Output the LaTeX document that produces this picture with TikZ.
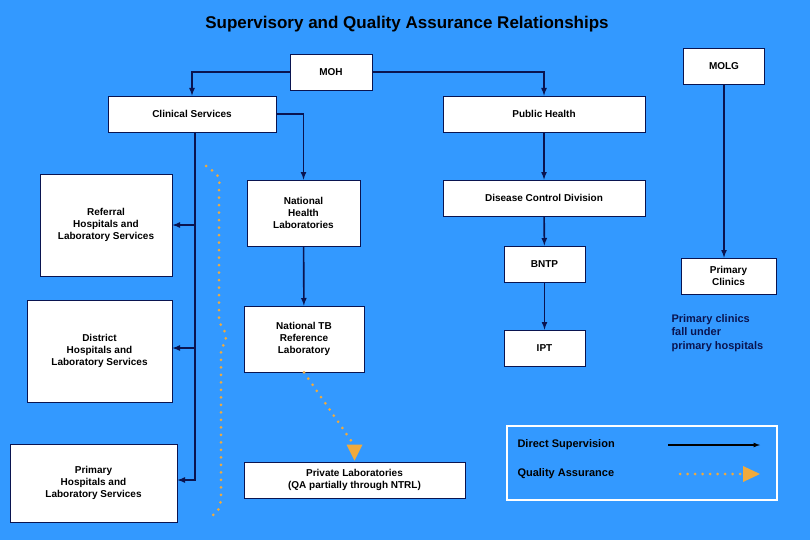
\documentclass[tikz,border=0pt]{standalone}
\usepackage{fontspec}
\setmainfont{Liberation Sans}
\usepackage{tikz}
\usetikzlibrary{arrows,shapes,positioning,calc}
\definecolor{bgblue}{RGB}{51,153,255}
\definecolor{qaorange}{RGB}{240,170,60}
\definecolor{navy}{RGB}{10,20,80}
\begin{document}
\begin{tikzpicture}[x=1pt,y=-1pt]
    \tikzstyle{box}=[draw=navy,fill=white,thick,inner sep=1pt,align=center,font=\bfseries\fontsize{10}{12}\selectfont]
    \tikzstyle{sup}=[draw=navy,line width=1.6pt,-latex]
    \tikzstyle{qa}=[draw=qaorange,line width=3pt,line cap=round,dash pattern=on 0pt off 7.5pt]

\fill[bgblue] (0,0) rectangle (810,540);
\path[use as bounding box] (0,0) rectangle (810,540);

\node[font=\bfseries\fontsize{17}{20}\selectfont] (title) at (407,24) {Supervisory and Quality Assurance Relationships};

% Ministries
\node[box, minimum width=82pt, minimum height=36pt] (moh) at (331,72) {MOH};
\node[box, minimum width=81pt, minimum height=36pt] (molg) at (724,66) {MOLG};

\node[box, minimum width=168pt, minimum height=36pt] (clin) at (192,114) {Clinical Services};
\node[box, minimum width=202pt, minimum height=36pt] (ph) at (544,114) {Public Health};

% hospitals
\node[box, minimum width=132pt, minimum height=102pt] (ref) at (106,225) {Referral\\Hospitals and\\Laboratory Services};
\node[box, minimum width=145pt, minimum height=102pt] (dist) at (99.5,351) {District\\Hospitals and\\Laboratory Services};
\node[box, minimum width=167pt, minimum height=78pt] (prim) at (93.5,483) {Primary\\Hospitals and\\Laboratory Services};

% laboratories
\node[box, minimum width=113pt, minimum height=66pt] (nhl) at (303.5,213) {National\\Health\\Laboratories};
\node[box, minimum width=120pt, minimum height=66pt] (ntrl) at (304,339) {National TB\\Reference\\Laboratory};
\node[box, minimum width=221pt, minimum height=36pt] (priv) at (354.5,480) {Private Laboratories\\(QA partially through NTRL)};

% public health line
\node[box, minimum width=202pt, minimum height=36pt] (dcd) at (544,198) {Disease Control Division};
\node[box, minimum width=81pt, minimum height=36pt] (bntp) at (544.5,264) {BNTP};
\node[box, minimum width=81pt, minimum height=36pt] (ipt) at (544.5,348) {IPT};
\node[box, minimum width=95pt, minimum height=36pt] (pc) at (728.5,276) {Primary\\Clinics};
\node[align=left, text=navy, font=\bfseries\fontsize{11}{13.5}\selectfont, anchor=west] (note) at (668,333) {Primary clinics\\fall under\\primary hospitals};

% supervision
\draw[sup] (moh.west) -| (clin.north);
\draw[sup] (moh.east) -| (ph.north);
\draw[sup] (clin.east) -| (nhl.north);
\draw[sup] (ph) -- (dcd);
\draw[sup] (dcd) -- (bntp);
\draw[sup] (bntp) -- (ipt);
\draw[sup] (molg.south) -- (molg.south |- pc.north);
\draw[sup] (nhl) -- (ntrl);
\coordinate (trunk) at (195,132);
\draw[draw=navy,line width=1.6pt] (trunk) -- (195,481);
\draw[sup] (195,225) -- (ref.east);
\draw[sup] (195,348) -- (ref.east |- 0,348);
\draw[sup] (195,480) -- (prim.east |- 0,480);

% quality assurance
\draw[qa] (206,166) .. controls (220,176) .. (219,190) -- (219,322) .. controls (228,336) .. (221,350) -- (221,500) .. controls (219,510) .. (212,516);
\draw[qa] (ntrl.south) -- ($(priv.north)+(0,-16)$);
\fill[qaorange] ($(priv.north)+(-8,-17)$) -- ($(priv.north)+(8,-17)$) -- ($(priv.north)+(0,-1)$) -- cycle;

% Legend
\node[draw=white, line width=2pt, minimum width=270pt, minimum height=74pt] (leg) at (642,463) {};
\node[anchor=west, font=\bfseries\fontsize{11}{13}\selectfont] (lsup) at (514,445) {Direct Supervision};
\node[anchor=west, font=\bfseries\fontsize{11}{13}\selectfont] (lqa) at (514,474) {Quality Assurance};
\coordinate (lsa) at (668,445);
\coordinate (lsb) at (760,445);
\draw[draw=black,line width=1.2pt,-latex] (lsa) -- (lsb);
\coordinate (lqa1) at (680,474);
\coordinate (lqa2) at (742,474);
\draw[qa] (lqa1) -- (lqa2);
\fill[qaorange] (743,466) -- (760,474) -- (743,482) -- cycle;

\end{tikzpicture}
\end{document}
